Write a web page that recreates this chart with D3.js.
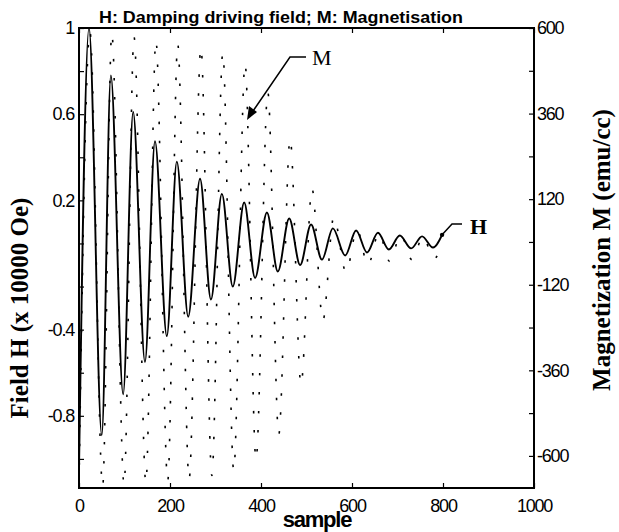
<!DOCTYPE html>
<html><head><meta charset="utf-8">
<script src="https://cdn.jsdelivr.net/npm/d3@7"></script>
<style>body{margin:0;background:#fff}svg{display:block}</style>
</head><body>
<script>
// ---- data ----
const sampleTicks = [0, 200, 400, 600, 800, 1000];
const hTicks = [1, 0.8, 0.6, 0.4, 0.2, 0, -0.2, -0.4, -0.6, -0.8, -1];
const hTickLabels = [1, 0.6, 0.2, -0.4, -0.8];
const mTicks = [600, 480, 360, 240, 120, 0, -120, -240, -360, -480, -600];
const mTickLabels = [600, 360, 120, -120, -360, -600];

const hSample = [0, 22, 50, 70, 97, 119, 145, 167, 193, 215, 240, 266, 290, 314, 338, 363, 387, 413, 437, 462, 486, 510, 534, 558, 585, 609, 633, 657, 681, 705, 730, 754, 778, 798];
const hValue = [-1.05, 1.0, -0.89, 0.78, -0.70, 0.61, -0.55, 0.475, -0.43, 0.38, -0.34, 0.30, -0.26, 0.23, -0.20, 0.19, -0.16, 0.144, -0.13, 0.116, -0.10, 0.088, -0.075, 0.07, -0.056, 0.06, -0.042, 0.05, -0.028, 0.037, -0.023, 0.033, -0.019, 0.04];

const mSample = [0, 24, 52, 72, 99, 121, 147, 169, 195, 217, 242, 268, 292, 316, 340, 365, 389, 415, 439, 464, 488, 512, 536, 560, 587, 611, 635, 659, 683, 707, 732, 756, 780, 798];
const mValue = [-680, 590, -685, 585, -680, 575, -675, 565, -670, 555, -665, 545, -655, 530, -640, 500, -610, 420, -540, 290, -400, 150, -220, 70, -85, 35, -65, 25, -55, 20, -50, 15, -48, 0];

// ---- layout ----
const W = 619, H = 532;
const L = 79, R = 534, T = 28, B = 488;

const svg = d3.select("body").append("svg").attr("width", W).attr("height", H);

const x = d3.scaleLinear().domain([0, 1000]).range([L, R]);
const yH = d3.scaleLinear().domain([-1.135, 1]).range([B, T]);
const yM = d3.scaleLinear().domain([-690, 600]).range([B, T]);

const tickFont = "'Liberation Sans', Arial, sans-serif";
const serif = "'Liberation Serif', 'Times New Roman', serif";

const hPts = hSample.map((s, i) => [s, hValue[i]]);
const mPts = mSample.map((s, i) => [s, mValue[i]]);

// M dotted
svg.append("path")
  .attr("d", d3.line().x(d => x(d[0])).y(d => yM(d[1])).curve(d3.curveMonotoneX)(mPts))
  .attr("fill", "none").attr("stroke", "#000").attr("stroke-width", 1.6)
  .attr("stroke-dasharray", "2.5 16.5");

// H solid
svg.append("path")
  .attr("d", d3.line().x(d => x(d[0])).y(d => yH(d[1])).curve(d3.curveMonotoneX)(hPts))
  .attr("fill", "none").attr("stroke", "#000").attr("stroke-width", 1.9);

function styleAxis(g) {
  g.select(".domain").remove();
  g.selectAll("line").attr("stroke", "#000").attr("stroke-width", 1.2);
  g.selectAll("text").attr("font-family", tickFont).attr("font-size", 18)
    .attr("letter-spacing", -1.2).attr("fill", "#000");
}

svg.append("g").attr("transform", `translate(0,${B})`)
  .call(d3.axisBottom(x).tickValues(sampleTicks).tickSize(-5).tickPadding(11).tickFormat(d3.format("d")))
  .call(styleAxis);
svg.append("g").attr("transform", `translate(0,${T})`)
  .call(d3.axisTop(x).tickValues(sampleTicks).tickSize(-5).tickFormat(""))
  .call(styleAxis);
svg.append("g").attr("transform", `translate(${L},0)`)
  .call(d3.axisLeft(yH).tickValues(hTicks).tickSize(-5).tickPadding(5)
    .tickFormat(d => hTickLabels.includes(d) ? String(d) : ""))
  .call(styleAxis);
svg.append("g").attr("transform", `translate(${R},0)`)
  .call(d3.axisRight(yM).tickValues(mTicks).tickSize(-5).tickPadding(3)
    .tickFormat(d => mTickLabels.includes(d) ? String(d) : ""))
  .call(styleAxis);

// box
svg.append("rect").attr("x", L).attr("y", T).attr("width", R - L).attr("height", B - T)
  .attr("fill", "none").attr("stroke", "#000").attr("stroke-width", 2);

// title
svg.append("text").attr("x", 281).attr("y", 23).attr("text-anchor", "middle")
  .attr("font-family", tickFont).attr("font-weight", "bold").attr("font-size", 17)
  .attr("textLength", 364).attr("lengthAdjust", "spacingAndGlyphs")
  .text("H: Damping driving field; M: Magnetisation");

// x label
svg.append("text").attr("x", 317).attr("y", 527).attr("text-anchor", "middle")
  .attr("font-family", tickFont).attr("font-weight", "bold").attr("font-size", 22)
  .attr("letter-spacing", -1.2).text("sample");

// y labels
svg.append("text").attr("transform", "translate(28,308) rotate(-90)").attr("text-anchor", "middle")
  .attr("font-family", serif).attr("font-weight", "bold")
  .attr("font-size", 25).text("Field H (x 10000 Oe)");
svg.append("text").attr("transform", "translate(610,250) rotate(-90)").attr("text-anchor", "middle")
  .attr("font-family", serif).attr("font-weight", "bold")
  .attr("font-size", 25).text("Magnetization M (emu/cc)");

// annotations
svg.append("path").attr("d", "M306,57 L290,57 L251,114").attr("fill", "none").attr("stroke", "#000").attr("stroke-width", 1.5);
svg.append("path").attr("d", "M247,120 L249,106 L257,112 Z").attr("fill", "#000");
svg.append("text").attr("x", 312).attr("y", 65).attr("font-family", serif).attr("font-size", 22).text("M");

svg.append("path").attr("d", `M${x(798)},${yH(0.04)} L452,224 L462,224`).attr("fill", "none").attr("stroke", "#000").attr("stroke-width", 1.5);
svg.append("circle").attr("cx", x(798)).attr("cy", yH(0.04)).attr("r", 2.2).attr("fill", "#000");
svg.append("text").attr("x", 470).attr("y", 234).attr("font-family", serif).attr("font-weight", "bold").attr("font-size", 22).text("H");
</script>
</body></html>
